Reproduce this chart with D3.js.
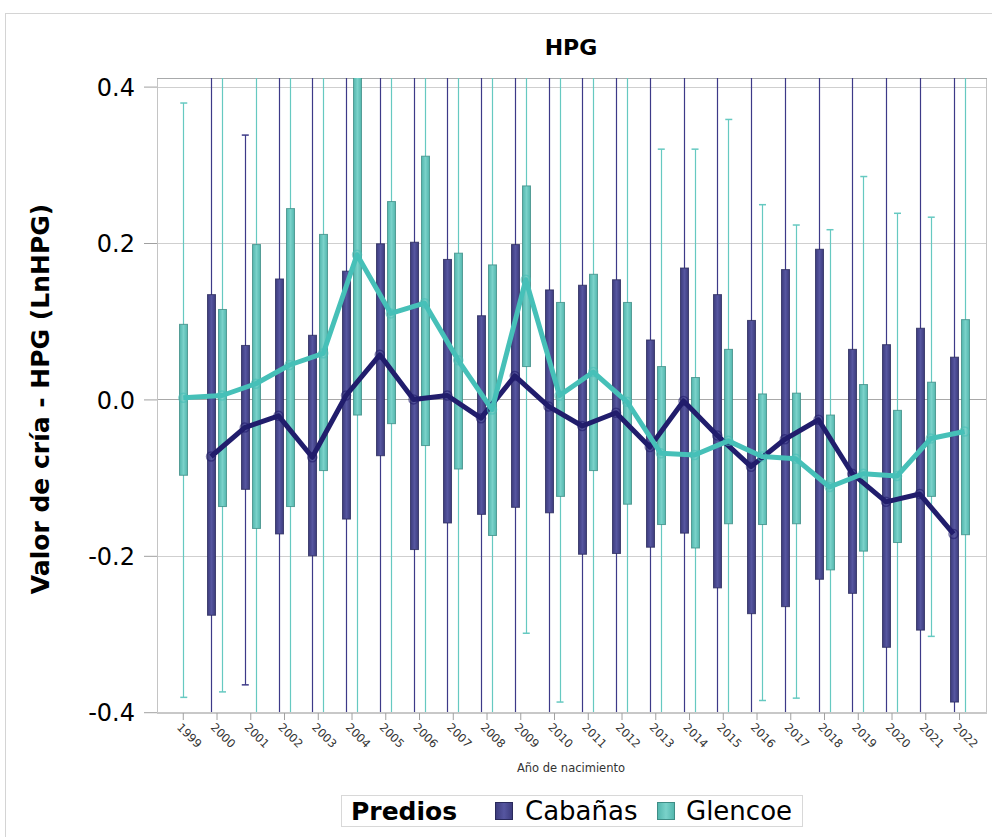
<!DOCTYPE html>
<html>
<head>
<meta charset="utf-8">
<script src="https://cdn.jsdelivr.net/npm/d3@7"></script>
<style>
  body { margin: 0; background: #fff; }
  text { font-family: 'DejaVu Sans', sans-serif; }
</style>
</head>
<body>
<div id="chart"></div>
<script>
const navy = '#211d6c';
const teal = '#46c0b8';
const ink  = '#000';

const years = ['1999','2000','2001','2002','2003','2004','2005','2006','2007','2008','2009','2010',
               '2011','2012','2013','2014','2015','2016','2017','2018','2019','2020','2021','2022'];
const groups = ['Cabañas', 'Glencoe'];
const yTicks = [-0.4, -0.2, 0, 0.2, 0.4];

// Cabañas (null = no animals that year); whiskers of 0.5 / -0.5 run past the axis
const cabQ3   = [null, .134, .069, .154, .082, .164, .199, .201, .179, .107, .198, .140,
                 .146, .153, .076, .168, .134, .101, .166, .192, .064, .070, .091, .054];
const cabQ1   = [null, -.276, -.115, -.172, -.200, -.153, -.072, -.192, -.158, -.147, -.138, -.145,
                 -.198, -.197, -.189, -.171, -.241, -.274, -.265, -.230, -.248, -.317, -.295, -.387];
const cabMean = [null, -.073, -.036, -.021, -.074, .005, .057, .000, .005, -.024, .030, -.009,
                 -.034, -.017, -.061, -.002, -.046, -.086, -.051, -.026, -.095, -.131, -.121, -.172];
const cabMax  = [null, .5, .338, .5, .5, .5, .5, .5, .5, .5, .5, .5,
                 .5, .5, .5, .5, .5, .5, .5, .5, .5, .5, .5, .5];
const cabMin  = [null, -.5, -.365, -.5, -.5, -.5, -.5, -.5, -.5, -.5, -.5, -.5,
                 -.5, -.5, -.5, -.5, -.5, -.5, -.5, -.5, -.5, -.5, -.5, -.5];

// Glencoe
const glnQ3   = [.096, .115, .198, .244, .211, .430, .253, .311, .187, .172, .273, .124,
                 .160, .124, .042, .028, .064, .007, .008, -.020, .019, -.014, .022, .102];
const glnQ1   = [-.097, -.137, -.165, -.137, -.091, -.020, -.031, -.059, -.089, -.174, .042, -.124,
                 -.091, -.134, -.160, -.190, -.159, -.160, -.159, -.218, -.194, -.183, -.124, -.173];
const glnMean = [.002, .005, .020, .044, .059, .185, .110, .123, .050, -.013, .153, .005,
                 .035, -.003, -.069, -.071, -.053, -.073, -.076, -.112, -.095, -.098, -.050, -.041];
const glnMax  = [.379, .5, .5, .5, .5, .5, .5, .5, .5, .5, .5, .5,
                 .5, .5, .320, .320, .358, .249, .223, .217, .285, .238, .233, .5];
const glnMin  = [-.381, -.374, -.5, -.5, -.5, -.5, -.5, -.5, -.5, -.5, -.299, -.387,
                 -.5, -.5, -.5, -.5, -.5, -.385, -.382, -.5, -.5, -.5, -.303, -.5];

const W = 992, H = 837;
const plot = { left: 157, top: 78, right: 986, bottom: 713 };

const svg = d3.select('#chart').append('svg').attr('width', W).attr('height', H);

// gradients for the boxes
const defs = svg.append('defs');
function grad(id, edge, mid) {
  const lg = defs.append('linearGradient').attr('id', id).attr('x1', 0).attr('x2', 1).attr('y1', 0).attr('y2', 0);
  lg.append('stop').attr('offset', '0%').attr('stop-color', edge);
  lg.append('stop').attr('offset', '50%').attr('stop-color', mid);
  lg.append('stop').attr('offset', '100%').attr('stop-color', edge);
}
grad('gNavy', '#3c3b7c', '#5656a0');
grad('gTeal', '#52b6ad', '#7ad2ca');
defs.append('clipPath').attr('id', 'clip').append('rect')
  .attr('x', plot.left).attr('y', plot.top)
  .attr('width', plot.right - plot.left).attr('height', plot.bottom - plot.top);

// outer frame
svg.append('rect').attr('x', 5.5).attr('y', 13.5).attr('width', 990).attr('height', 840)
  .attr('fill', 'none').attr('stroke', '#d4d4d4');

const x  = d3.scaleBand().domain(years).range([166.4, 976.4]);
const xg = d3.scaleBand().domain(groups).range([-11.5, 10.5]);
const y  = d3.scaleLinear().domain([-0.401, 0.411]).range([plot.bottom, plot.top]);

const boxW = 8;
function cx(i, g) {
  // a year with only one herd is centred on its tick
  const alone = g === 'Glencoe' && cabMean[i] === null;
  return x(years[i]) + x.bandwidth() / 2 + (alone ? 0 : xg(g) + xg.bandwidth() / 2);
}

// gridlines
svg.append('g').selectAll('line').data(yTicks).join('line')
  .attr('x1', plot.left).attr('x2', plot.right)
  .attr('y1', d => Math.round(y(d)) + 0.5).attr('y2', d => Math.round(y(d)) + 0.5)
  .attr('stroke', d => d === 0 ? '#a8a8a8' : '#cfcfcf');

// plot frame
svg.append('rect').attr('x', plot.left + 0.5).attr('y', plot.top + 0.5)
  .attr('width', plot.right - plot.left).attr('height', plot.bottom - plot.top)
  .attr('fill', 'none').attr('stroke', '#c4c4c4');
svg.append('line').attr('x1', plot.left).attr('x2', plot.right + 1)
  .attr('y1', plot.top + 0.5).attr('y2', plot.top + 0.5).attr('stroke', '#a8aaab');

const series = [
  { name: 'Cabañas', q1: cabQ1, q3: cabQ3, mean: cabMean, min: cabMin, max: cabMax,
    line: navy, whisk: '#3d3a88', fill: 'url(#gNavy)', stroke: '#2a2a5c' },
  { name: 'Glencoe', q1: glnQ1, q3: glnQ3, mean: glnMean, min: glnMin, max: glnMax,
    line: teal, whisk: '#66c9c1', fill: 'url(#gTeal)', stroke: '#3f8d86' },
];

const body = svg.append('g').attr('clip-path', 'url(#clip)');

series.forEach(s => {
  const idx = years.map((d, i) => i).filter(i => s.mean[i] !== null);
  const g = body.append('g');

  // whiskers
  g.selectAll('.wh').data(idx).join('line').attr('class', 'wh')
    .attr('x1', i => Math.round(cx(i, s.name)) + 0.5).attr('x2', i => Math.round(cx(i, s.name)) + 0.5)
    .attr('y1', i => y(s.max[i])).attr('y2', i => y(s.min[i]))
    .attr('stroke', s.whisk).attr('stroke-width', 1.2);

  // caps
  ['min', 'max'].forEach(k => {
    g.selectAll('.cap' + k).data(idx.filter(i => Math.abs(s[k][i]) < 0.45)).join('line')
      .attr('class', 'cap' + k)
      .attr('x1', i => cx(i, s.name) - 3).attr('x2', i => cx(i, s.name) + 4)
      .attr('y1', i => y(s[k][i])).attr('y2', i => y(s[k][i]))
      .attr('stroke', s.whisk).attr('stroke-width', 1.5);
  });

  // boxes
  g.selectAll('.bx').data(idx).join('rect').attr('class', 'bx')
    .attr('x', i => Math.round(cx(i, s.name)) + 0.5 - boxW / 2)
    .attr('width', boxW)
    .attr('y', i => y(s.q3[i]))
    .attr('height', i => y(s.q1[i]) - y(s.q3[i]))
    .attr('fill', s.fill).attr('stroke', s.stroke).attr('stroke-opacity', 0.8);
});

// mean lines on top
series.forEach(s => {
  const idx = years.map((d, i) => i).filter(i => s.mean[i] !== null);
  const line = d3.line().x(i => cx(i, s.name)).y(i => y(s.mean[i]));
  body.append('path').datum(idx).attr('d', line)
    .attr('fill', 'none').attr('stroke', s.line).attr('stroke-width', 5)
    .attr('stroke-linejoin', 'round');
  body.append('g').selectAll('circle').data(idx).join('circle')
    .attr('cx', i => cx(i, s.name)).attr('cy', i => y(s.mean[i])).attr('r', 4.5)
    .attr('fill', 'none').attr('stroke', s.line).attr('stroke-opacity', 0.6).attr('stroke-width', 1.5);
});

// y axis
svg.append('g').attr('transform', `translate(${plot.left},0)`)
  .call(d3.axisLeft(y).tickValues(yTicks).tickSize(13).tickPadding(9).tickFormat(d => d.toFixed(1)))
  .call(a => a.select('.domain').remove())
  .call(a => a.selectAll('line').attr('stroke', '#a0a0a0'))
  .call(a => a.selectAll('text').style('font-size', '24px').style('fill', ink)
    .style('font-family', 'DejaVu Sans').attr('dy', '0.36em'));

// x axis
svg.append('g').attr('transform', `translate(0,${plot.bottom})`)
  .call(d3.axisBottom(x).tickSize(7).tickFormat(''))
  .call(a => a.select('.domain').attr('stroke', '#c8c8c8').attr('stroke-width', 2)
    .attr('d', `M${plot.left},0H${plot.right + 1}`))
  .call(a => a.selectAll('line').attr('stroke', '#a0a0a0'));

svg.append('g').selectAll('text').data(years).join('text')
  .attr('transform', d => `translate(${x(d) + x.bandwidth() / 2 - 7},${plot.bottom + 15}) rotate(45)`)
  .style('font-size', '11.5px').style('fill', '#333')
  .text(d => d);

svg.append('text').attr('x', 571).attr('y', 772).attr('text-anchor', 'middle')
  .style('font-size', '11.5px').style('fill', '#333').text('Año de nacimiento');

// title
svg.append('text').attr('x', 571).attr('y', 55).attr('text-anchor', 'middle')
  .style('font-size', '22px').style('font-weight', 'bold').style('fill', ink).text('HPG');

// y label
svg.append('text').attr('transform', 'translate(49,399) rotate(-90)').attr('text-anchor', 'middle')
  .style('font-size', '25px').style('font-weight', 'bold').style('fill', ink)
  .text('Valor de cría - HPG (LnHPG)');

// legend
const leg = svg.append('g');
leg.append('rect').attr('x', 341.5).attr('y', 795.5).attr('width', 461).attr('height', 31)
  .attr('fill', 'none').attr('stroke', '#d8d8d8');
leg.append('text').attr('x', 351).attr('y', 820).style('font-size', '25px').style('font-weight', 'bold')
  .style('fill', ink).text('Predios');
const legItems = [
  { name: groups[0], sq: 495, tx: 525, fill: 'url(#gNavy)', stroke: '#2a2a5c' },
  { name: groups[1], sq: 657, tx: 686, fill: 'url(#gTeal)', stroke: '#3f8d86' },
];
leg.selectAll('.sq').data(legItems).join('rect').attr('class', 'sq')
  .attr('x', d => d.sq + 0.5).attr('y', 802.5).attr('width', 17).attr('height', 17)
  .attr('fill', d => d.fill).attr('stroke', d => d.stroke);
leg.selectAll('.lt').data(legItems).join('text').attr('class', 'lt')
  .attr('x', d => d.tx).attr('y', 820).style('font-size', '26px').style('fill', ink)
  .text(d => d.name);
</script>
</body>
</html>
